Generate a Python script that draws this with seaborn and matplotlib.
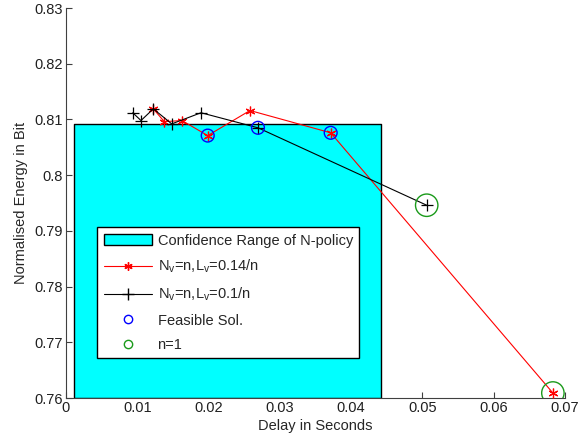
import matplotlib
matplotlib.use("Agg")
import matplotlib.pyplot as plt
import seaborn as sns
import pandas as pd
from matplotlib.patches import Patch
from matplotlib.lines import Line2D

# ---- data ----
red_delay = [0.01225, 0.01379, 0.01627, 0.01988, 0.02581, 0.03713, 0.0683]
red_energy = [0.8119, 0.8096, 0.8098, 0.8071, 0.8116, 0.8076, 0.7609]
black_delay = [0.00936, 0.01052, 0.01225, 0.01483, 0.01894, 0.02693, 0.0506]
black_energy = [0.8112, 0.8098, 0.8119, 0.8092, 0.8112, 0.8085, 0.7946]
feasible_delay = [0.01988, 0.02693, 0.03713]
feasible_energy = [0.8071, 0.8085, 0.8076]
n1_delay = [0.0506, 0.0683]
n1_energy = [0.7946, 0.7609]
conf_delay = [0.0011, 0.0442]
conf_energy = [0.76, 0.8092]

labels = ["Confidence Range of N-policy",
          r"N$_{\mathrm{v}}$=n,L$_{\mathrm{v}}$=0.14/n",
          r"N$_{\mathrm{v}}$=n,L$_{\mathrm{v}}$=0.1/n",
          "Feasible Sol.", "n=1"]
xticks = [0, 0.01, 0.02, 0.03, 0.04, 0.05, 0.06, 0.07]
xticklabels = ["0", "0.01", "0.02", "0.03", "0.04", "0.05", "0.06", "0.07"]
yticks = [0.76, 0.77, 0.78, 0.79, 0.8, 0.81, 0.82, 0.83]
yticklabels = ["0.76", "0.77", "0.78", "0.79", "0.8", "0.81", "0.82", "0.83"]

sns.set_style("white")
plt.rcParams['font.family'] = ['Liberation Sans', 'DejaVu Sans']
plt.rcParams['mathtext.fontset'] = 'custom'
plt.rcParams['mathtext.rm'] = 'Liberation Sans'

FS = 10.5
fig = plt.figure(figsize=(5.79, 4.47), dpi=100)
ax = fig.add_axes([66/579, 1-398/447, 499/579, 390/447])

ax.fill_between(conf_delay, conf_energy[0], conf_energy[1], facecolor='#00FFFF',
                edgecolor='black', linewidth=1.0, zorder=1)

asterisk = (6, 2, 0)
df_r = pd.DataFrame({"x": red_delay, "y": red_energy})
df_b = pd.DataFrame({"x": black_delay, "y": black_energy})
sns.lineplot(data=df_r, x="x", y="y", ax=ax, color='red', linewidth=0.8,
             marker=asterisk, markersize=7, markeredgecolor='red',
             markeredgewidth=0.9, sort=False, estimator=None, zorder=3)
sns.lineplot(data=df_b, x="x", y="y", ax=ax, color='black', linewidth=0.8,
             marker='+', markersize=8, markeredgecolor='black',
             markeredgewidth=0.9, sort=False, estimator=None, zorder=3)
sns.scatterplot(x=feasible_delay, y=feasible_energy, ax=ax, s=85,
                facecolor='none', edgecolor='blue', linewidth=1.0, zorder=4)
sns.scatterplot(x=n1_delay, y=n1_energy, ax=ax, s=260,
                facecolor='none', edgecolor='#1a9a1a', linewidth=1.0, zorder=4)

ax.set_xlim(0, 0.07)
ax.set_ylim(0.76, 0.83)
ax.set_xticks(xticks)
ax.set_xticklabels(xticklabels)
ax.set_yticks(yticks)
ax.set_yticklabels(yticklabels)
ax.set_xlabel("Delay in Seconds", fontsize=FS, labelpad=3)
ax.set_ylabel("Normalised Energy in Bit", fontsize=FS, labelpad=5)
ax.tick_params(direction='in', length=4, width=0.8, color='#404040',
               labelsize=FS, labelcolor='#202020', bottom=True, left=True, pad=2)
for s in ['top', 'right']:
    ax.spines[s].set_visible(False)
for s in ['left', 'bottom']:
    ax.spines[s].set_color('#404040')
    ax.spines[s].set_linewidth(0.8)

handles = [
    Patch(facecolor='#00FFFF', edgecolor='black', linewidth=1.0),
    Line2D([0], [0], color='red', linewidth=0.8, marker=asterisk, markersize=6,
           markeredgecolor='red'),
    Line2D([0], [0], color='black', linewidth=0.8, marker='+', markersize=8,
           markeredgecolor='black'),
    Line2D([0], [0], linestyle='none', marker='o', markersize=6,
           markerfacecolor='none', markeredgecolor='blue'),
    Line2D([0], [0], linestyle='none', marker='o', markersize=6,
           markerfacecolor='none', markeredgecolor='#1a9a1a'),
]
leg = ax.legend(handles, labels, loc='upper left',
                bbox_to_anchor=(31/499, (398-227)/390), borderaxespad=0,
                fontsize=FS, frameon=True, fancybox=False, edgecolor='black',
                framealpha=1, handlelength=3.3, handletextpad=0.4,
                labelspacing=0.7, borderpad=0.45)
leg.get_frame().set_linewidth(1.0)

fig.savefig("out.png", dpi=100, facecolor='white')
